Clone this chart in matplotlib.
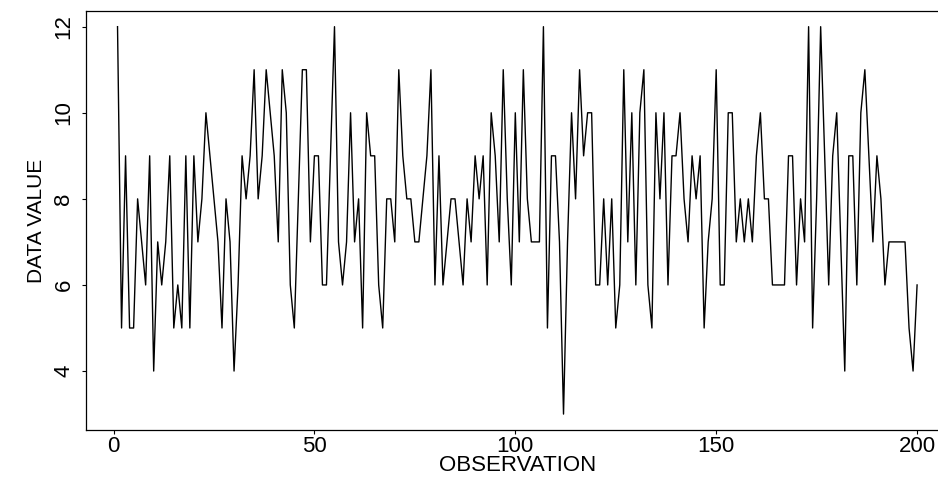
import matplotlib
matplotlib.use("Agg")
import matplotlib.pyplot as plt

plt.rcParams['font.family'] = ['Liberation Sans', 'DejaVu Sans']

# observation values
obs = list(range(1, 201))
values = [
    12, 5, 9, 5, 5, 8, 7, 6, 9, 4,
    7, 6, 7, 9, 5, 6, 5, 9, 5, 9,
    7, 8, 10, 9, 8, 7, 5, 8, 7, 4,
    6, 9, 8, 9, 11, 8, 9, 11, 10, 9,
    7, 11, 10, 6, 5, 8, 11, 11, 7, 9,
    9, 6, 6, 9, 12, 7, 6, 7, 10, 7,
    8, 5, 10, 9, 9, 6, 5, 8, 8, 7,
    11, 9, 8, 8, 7, 7, 8, 9, 11, 6,
    9, 6, 7, 8, 8, 7, 6, 8, 7, 9,
    8, 9, 6, 10, 9, 7, 11, 8, 6, 10,
    7, 11, 8, 7, 7, 7, 12, 5, 9, 9,
    7, 3, 7, 10, 8, 11, 9, 10, 10, 6,
    6, 8, 6, 8, 5, 6, 11, 7, 10, 6,
    10, 11, 6, 5, 10, 8, 10, 6, 9, 9,
    10, 8, 7, 9, 8, 9, 5, 7, 8, 11,
    6, 6, 10, 10, 7, 8, 7, 8, 7, 9,
    10, 8, 8, 6, 6, 6, 6, 9, 9, 6,
    8, 7, 12, 5, 8, 12, 9, 6, 9, 10,
    7, 4, 9, 9, 6, 10, 11, 9, 7, 9,
    8, 6, 7, 7, 7, 7, 7, 5, 4, 6,
]
x_ticks = [0, 50, 100, 150, 200]
y_ticks = [4, 6, 8, 10, 12]

fig = plt.figure(figsize=(9.38, 4.78), dpi=100)
# right edge of the box runs past the figure, like the cropped original
ax = fig.add_axes([0.0912, 0.1013, 0.9206, 0.8753])

ax.plot(obs, values, color='black', linewidth=1.0)

ax.set_xlim(1 - 0.04 * 199, 200 + 0.04 * 199)
ax.set_ylim(3 - 0.04 * 9, 12 + 0.04 * 9)
ax.set_xticks(x_ticks)
ax.set_yticks(y_ticks)
ax.tick_params(direction='out', length=3, width=0.8, colors='black')
ax.tick_params(axis='x', labelsize=16, pad=1.5)
ax.tick_params(axis='y', labelsize=16, pad=5)
for lbl in ax.get_yticklabels():
    lbl.set_rotation(90)
    lbl.set_va('center')

for sp in ax.spines.values():
    sp.set_color('black')
    sp.set_linewidth(0.9)

ax.set_xlabel('OBSERVATION', fontsize=16, labelpad=-1)
ax.set_ylabel('DATA VALUE', fontsize=15, labelpad=5,
              family=['Liberation Sans Narrow', 'Liberation Sans', 'DejaVu Sans'])

fig.savefig('out.png', dpi=100)
